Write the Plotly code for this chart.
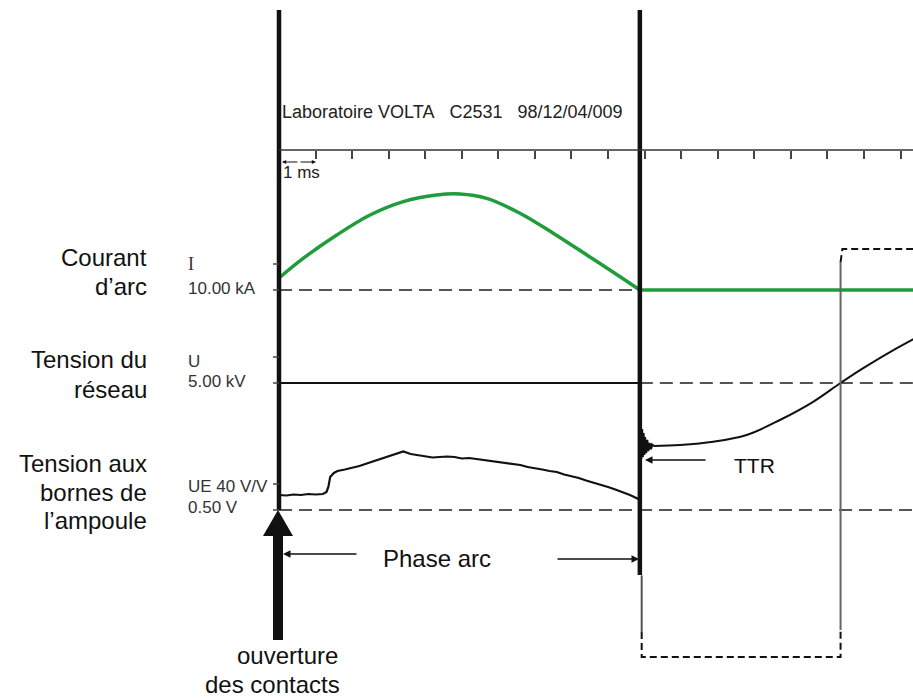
import plotly.graph_objects as go

W, H = 913, 700

# ---------------- data (time in ms) ----------------
ms_ticks = list(range(0, 18))
t_open = 0.0          # contacts opening
t_zero = 9.87         # current zero

# arc current (kA)
t_I = [0.0, 0.66, 1.58, 2.49, 3.40, 4.31, 4.95, 5.68, 6.59, 7.50, 8.42, 9.33, 9.87]
I_kA = [3.0, 7.9, 13.75, 18.75, 22.1, 23.75, 24.0, 22.9, 19.2, 14.2, 8.75, 3.3, 0.0]
t_I_after = [9.87, 17.4]
I_after = [0.0, 0.0]

# network voltage (kV)
t_U_arc = [0.0, 9.87]
U_arc = [0.0, 0.0]
t_U_ttr = [9.87, 9.88, 9.90, 9.92, 9.94, 9.96, 9.98, 10.00, 10.03, 10.06, 10.09, 10.12,
           10.16, 10.20, 10.24]
U_ttr = [0.0, -20.0, -38.0, -23.0, -37.0, -25.0, -36.0, -27.0, -35.0, -28.5, -34.0, -30.0,
         -33.0, -31.0, -31.5]
t_U_rec = [10.24, 10.97, 11.88, 12.79, 13.70, 14.61, 15.36, 15.98, 16.90, 17.40]
U_rec = [-31.5, -31.0, -29.4, -26.0, -18.5, -9.4, 0.0, 7.4, 17.4, 22.4]

# voltage across the vacuum bottle (V)
t_UE = [0.0, 0.2, 0.4, 0.6, 0.8, 1.0, 1.2, 1.3, 1.35, 1.4, 1.5, 1.6, 1.8, 2.0, 2.2, 2.4,
        2.6, 2.8, 3.0, 3.2, 3.4, 3.6, 3.8, 4.0, 4.2, 4.4, 4.6, 4.8, 5.0, 5.2, 5.4, 5.6,
        5.8, 6.0, 6.2, 6.4, 6.6, 6.8, 7.0, 7.2, 7.4, 7.6, 7.8, 8.0, 8.2, 8.4, 8.6, 8.8,
        9.0, 9.2, 9.4, 9.6, 9.8, 9.87]
UE_V = [0.30, 0.29, 0.31, 0.30, 0.32, 0.31, 0.32, 0.36, 0.46, 0.66, 0.74, 0.78, 0.81, 0.84,
        0.88, 0.93, 0.98, 1.03, 1.07, 1.12, 1.17, 1.12, 1.10, 1.08, 1.05, 1.06, 1.07, 1.06,
        1.03, 1.04, 1.02, 1.00, 0.98, 0.97, 0.95, 0.92, 0.90, 0.86, 0.84, 0.81, 0.78, 0.76,
        0.71, 0.68, 0.64, 0.59, 0.55, 0.51, 0.46, 0.41, 0.36, 0.30, 0.23, 0.19]

# switching signal (0 = low, 1 = high)
t_sw_low = [9.92, 9.92, 15.36, 15.36]
sw_low = [0.061, 0.0, 0.0, 0.066]
t_sw_high = [15.36, 15.41, 17.4]
sw_high = [0.968, 1.0, 1.0]
t_sw_edge1 = [9.92, 9.92]
sw_edge1 = [0.20, 0.061]
t_sw_edge2 = [15.36, 15.36]
sw_edge2 = [0.066, 0.968]

# ---------------- helpers ----------------
def PX(x):
    return x / W

def PY(y):
    return 1 - y / H

PX_PER_MS = 36.56
X0 = 279.0
x_range = [-X0 / PX_PER_MS, (W - X0) / PX_PER_MS]

def yr(zero_px, px_per_unit):
    return [-(H - zero_px) / px_per_unit, zero_px / px_per_unit]

FONT = "Liberation Sans, Arial, sans-serif"
BLACK = "#111111"
GREEN = "#1f9d3d"
DASHGRAY = "#555555"

fig = go.Figure()

def line(x, y, axis, color, width, dash="solid", shape="linear"):
    fig.add_trace(go.Scatter(x=x, y=y, yaxis=axis, mode="lines",
                             line=dict(color=color, width=width, dash=dash, shape=shape),
                             hoverinfo="skip", showlegend=False))

# zero reference lines
line([t_open, x_range[1]], [0, 0], "y", DASHGRAY, 2, "13px,7px")
line([t_zero, x_range[1]], [0, 0], "y2", DASHGRAY, 2, "13px,7px")
line([t_open, x_range[1]], [0, 0], "y3", DASHGRAY, 2, "13px,7px")

# current
line(t_I, I_kA, "y", GREEN, 3.5, shape="spline")
line(t_I_after, I_after, "y", GREEN, 3.5)

# network voltage
line(t_U_arc, U_arc, "y2", BLACK, 2)
line(t_U_ttr, U_ttr, "y2", BLACK, 3)
line(t_U_rec, U_rec, "y2", BLACK, 2, shape="spline")

# bottle voltage
line(t_UE, UE_V, "y3", BLACK, 2.2)

# switching signal
line(t_sw_low, sw_low, "y4", BLACK, 2, "7px,4px")
line(t_sw_high, sw_high, "y4", BLACK, 2, "7px,4px")
line(t_sw_edge1, sw_edge1, "y4", "#555555", 2)
line(t_sw_edge2, sw_edge2, "y4", "#666666", 2)

shapes = []
# thick vertical markers
shapes.append(dict(type="line", xref="x", yref="paper", x0=t_open, x1=t_open,
                   y0=PY(10), y1=PY(510), line=dict(color=BLACK, width=4.5)))
shapes.append(dict(type="line", xref="x", yref="paper", x0=t_zero, x1=t_zero,
                   y0=PY(10), y1=PY(575), line=dict(color=BLACK, width=4.5)))
# time axis line
shapes.append(dict(type="line", xref="x", yref="paper", x0=t_open, x1=x_range[1],
                   y0=PY(150), y1=PY(150), line=dict(color="#333333", width=1.5)))
# small channel ticks left of the first marker
for yy in [264, 290, 357, 383, 484, 510]:
    shapes.append(dict(type="line", xref="paper", yref="paper", x0=PX(273), x1=PX(279),
                       y0=PY(yy), y1=PY(yy), line=dict(color="#444444", width=1.5)))
# big arrow (contacts opening)
shapes.append(dict(type="rect", xref="paper", yref="paper", x0=PX(273), x1=PX(283),
                   y0=PY(640), y1=PY(534), fillcolor=BLACK, line=dict(width=0)))
shapes.append(dict(type="path", xref="paper", yref="paper",
                   path=f"M {PX(263)} {PY(536)} L {PX(293)} {PY(536)} L {PX(278)} {PY(510)} Z",
                   fillcolor=BLACK, line=dict(width=0)))

ann = []

def txt(text, x, y, size, anchor="left", color=BLACK, family=FONT):
    ann.append(dict(text=text, x=PX(x), y=PY(y), xref="paper", yref="paper",
                    xanchor=anchor, yanchor="middle", showarrow=False,
                    font=dict(size=size, color=color, family=family)))

def arrow(xh, yh, dx, size=1.0, width=1.5):
    ann.append(dict(text="", x=PX(xh), y=PY(yh), xref="paper", yref="paper",
                    ax=dx, ay=0, showarrow=True, arrowhead=2, arrowsize=size,
                    arrowwidth=width, arrowcolor=BLACK, standoff=0, startstandoff=0))

txt("Laboratoire VOLTA\u00a0\u00a0 C2531\u00a0\u00a0 98/12/04/009", 280, 112, 18, color="#222222")
txt("1 ms", 281, 172, 17, color="#222222")

# left channel titles
for s, yy in [("Courant", 257), ("d’arc", 286), ("Tension du", 360), ("réseau", 389),
              ("Tension aux", 463), ("bornes de", 492), ("l’ampoule", 520)]:
    txt(s, 149, yy, 24, anchor="right")

# channel scale labels
txt("I", 186, 264, 18, color="#333333", family="Liberation Serif, Times New Roman, serif")
for s, yy in [("10.00 kA", 289), ("U", 361), ("5.00 kV", 381), ("UE 40 V/V", 486), ("0.50 V", 507)]:
    txt(s, 186, yy, 17, color="#333333")

txt("Phase arc", 381, 558, 24, color="#111111")
txt("TTR", 754, 465, 21, anchor="center")
txt("ouverture", 287, 655, 24, anchor="center")
txt("des contacts", 272, 684, 24, anchor="center")

arrow(283, 554, 75)
arrow(639, 559, -83)
arrow(645, 460, 62)
arrow(282, 162, 17, size=0.7, width=1.2)
arrow(316, 162, -17, size=0.7, width=1.2)

fig.update_layout(
    width=W, height=H, margin=dict(l=0, r=0, t=0, b=0),
    paper_bgcolor="white", plot_bgcolor="white",
    shapes=shapes, annotations=ann, showlegend=False,
    xaxis=dict(range=x_range, domain=[0, 1], anchor="free", position=PY(150),
               tickmode="array", tickvals=ms_ticks, ticks="outside", ticklen=8,
               tickwidth=1.5, tickcolor="#444444", showticklabels=False,
               showgrid=False, zeroline=False, showline=False, fixedrange=True),
    yaxis=dict(range=yr(290, 4.0), visible=False, domain=[0, 1], fixedrange=True),
    yaxis2=dict(range=yr(383, 2.0), visible=False, overlaying="y", fixedrange=True),
    yaxis3=dict(range=yr(510, 50.0), visible=False, overlaying="y", fixedrange=True),
    yaxis4=dict(range=yr(657, 408.0), visible=False, overlaying="y", fixedrange=True),
)

fig.write_html("out.html", config={"displayModeBar": False},
               post_script="document.body.style.margin='0';document.body.style.overflow='hidden';")
